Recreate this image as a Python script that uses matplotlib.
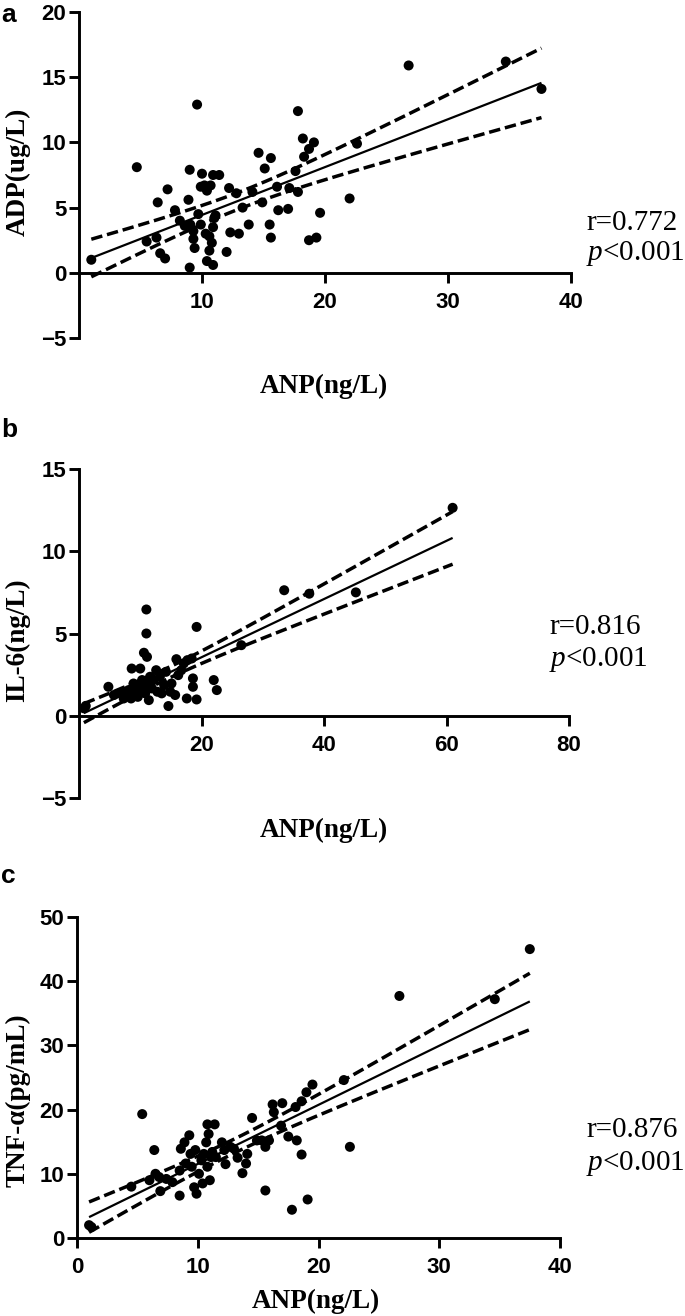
import numpy as np
import matplotlib
matplotlib.use("Agg")
import matplotlib.pyplot as plt

plt.rcParams["mathtext.fontset"] = "custom"
plt.rcParams["mathtext.it"] = "Liberation Serif:italic"
plt.rcParams["mathtext.rm"] = "Liberation Serif"

# ---------------- data ----------------
anp_a = [1.0, 4.7, 7.2, 6.4, 5.5, 6.3, 6.6, 7.0, 7.8, 8.2, 8.6, 8.9, 9.0, 9.05, 9.3, 9.3,
         9.4, 9.0, 9.6, 9.7, 9.9, 10.0, 9.9, 10.2, 10.4, 10.7, 10.9, 11.4, 10.3, 10.6,
         10.8, 10.6, 10.4, 10.9, 11.0, 10.9, 11.1, 12.0, 12.2, 12.3, 13.0, 12.8, 13.3,
         13.8, 14.1, 14.6, 14.9, 15.1, 15.6, 15.5, 15.6, 16.2, 16.1, 17.0, 17.1, 17.8,
         17.6, 17.8, 18.2, 18.3, 18.7, 19.1, 18.7, 19.3, 19.6, 22.0, 22.6, 26.8, 34.7, 37.6]
adp_a = [1.0, 8.1, 6.4, 5.4, 2.4, 2.7, 1.5, 1.1, 4.8, 4.0, 3.6, 5.6, 7.9, 3.7, 3.2, 2.6,
         1.9, 0.4, 12.9, 4.5, 3.7, 7.6, 6.6, 6.7, 6.3, 6.7, 7.5, 7.5, 3.0, 2.8,
         2.3, 1.7, 0.9, 0.6, 4.2, 3.5, 4.4, 1.6, 6.5, 3.1, 3.0, 6.1, 5.0,
         3.7, 6.2, 9.2, 5.4, 8.0, 8.8, 3.7, 2.7, 4.8, 6.6, 4.9, 6.5, 6.2,
         7.8, 12.4, 10.3, 8.9, 9.5, 10.0, 2.5, 2.7, 4.6, 5.7, 9.9, 15.9, 16.2, 14.1]

anp_b = [0.8, 1.1, 4.8, 5.7, 6.7, 7.3, 7.6, 8.1, 8.7, 8.5, 8.6, 8.9, 9.2, 9.5, 9.6,
         10.0, 10.3, 10.0, 10.5, 10.8, 11.0, 11.0, 10.6, 11.1, 11.2, 11.4, 11.6, 11.9,
         12.2, 12.6, 12.8, 13.2, 13.5, 13.9, 14.2, 14.6, 14.9, 15.1, 15.7, 15.9, 16.2,
         16.7, 17.1, 17.6, 17.7, 18.4, 18.6, 18.6, 19.2, 19.2, 22.0, 22.5, 26.5, 33.5,
         37.6, 45.2, 61.0]
il6_b = [0.45, 0.6, 1.76, 1.26, 1.36, 1.05, 1.46, 1.56, 1.66, 1.05, 2.87, 1.96, 1.46, 1.76, 1.15,
         2.87, 2.17, 1.46, 1.66, 1.36, 6.46, 5.0, 3.83, 3.58, 1.96, 0.95, 2.37, 1.66,
         2.17, 2.77, 1.46, 2.37, 1.36, 1.86, 2.67, 0.59, 1.46, 1.96, 1.26, 3.44, 2.47,
         2.77, 3.18, 1.05, 3.38, 3.48, 2.27, 1.76, 5.4, 0.99, 2.17, 1.56, 4.29, 7.63,
         7.42, 7.5, 12.64]

anp_c = [1.0, 1.2, 5.4, 4.5, 6.0, 6.5, 6.4, 6.9, 6.8, 7.4, 7.9, 8.5, 8.5, 8.6, 8.9, 9.3,
         9.0, 9.4, 9.5, 9.7, 9.9, 9.8, 10.1, 10.3, 10.4, 10.5, 10.7, 10.8, 10.9, 11.0,
         11.1, 10.8, 11.4, 11.2, 11.5, 12.0, 12.3, 12.2, 12.7, 13.0, 13.3, 13.7, 14.0,
         14.1, 14.5, 14.9, 15.3, 15.6, 15.6, 15.9, 16.2, 16.3, 17.0, 16.9, 17.5, 17.8,
         18.2, 18.1, 18.6, 18.6, 19.1, 19.0, 19.5, 22.1, 22.6, 26.7, 34.6, 37.5]
tnf_c = [2.0, 1.7, 19.3, 8.0, 9.0, 10.0, 13.7, 7.3, 9.5, 9.2, 8.7, 6.6, 10.5, 13.9, 14.9, 16.0,
         11.6, 13.1, 11.1, 7.9, 6.9, 13.7, 10.0, 12.1, 8.5, 13.1, 14.9, 11.1, 16.2, 9.0,
         12.6, 17.7, 17.7, 13.4, 12.6, 14.9, 11.5, 13.7, 14.2, 13.9, 12.5, 10.1, 11.6,
         13.1, 18.7, 15.2, 15.2, 14.2, 7.4, 15.2, 20.8, 19.6, 21.0, 17.5, 15.8, 4.4,
         15.2, 20.4, 13.0, 21.3, 6.0, 22.7, 23.9, 24.6, 14.2, 37.7, 37.2, 45.0]

x_ticks_a = [10, 20, 30, 40]
y_ticks_a = [-5, 0, 5, 10, 15, 20]
x_ticks_b = [20, 40, 60, 80]
y_ticks_b = [-5, 0, 5, 10, 15]
x_ticks_c = [0, 10, 20, 30, 40]
y_ticks_c = [0, 10, 20, 30, 40, 50]

panel_letters = ["a", "b", "c"]
y_labels = ["ADP(ug/L)", "IL-6(ng/L)", "TNF-α(pg/mL)"]
x_label = "ANP(ng/L)"
r_texts = ["r=0.772", "r=0.816", "r=0.876"]
p_text = r"$\it{p}$" + "<0.001"

serif = "Liberation Serif"
sans = "Liberation Sans"

W, H = 685, 1316
fig = plt.figure(figsize=(W / 100, H / 100), dpi=100)


def px_ax(x0, x1, ytop, ybot):
    return [x0 / W, 1 - ybot / H, (x1 - x0) / W, (ybot - ytop) / H]


def fit_lines(ax, x, y, t=1.99):
    x = np.asarray(x, float)
    y = np.asarray(y, float)
    n = len(x)
    b, a = np.polyfit(x, y, 1)
    res = y - (a + b * x)
    s = np.sqrt(np.sum(res ** 2) / (n - 2))
    xbar = x.mean()
    sxx = np.sum((x - xbar) ** 2)
    xs = np.linspace(x.min(), x.max(), 200)
    yh = a + b * xs
    hw = t * s * np.sqrt(1 / n + (xs - xbar) ** 2 / sxx)
    ax.plot(xs, yh, color="black", lw=1.6, zorder=3, solid_capstyle="butt")
    for sign in (1, -1):
        ax.plot(xs, yh + sign * hw, color="black", lw=2.5, dashes=(3.3, 1.4), zorder=3)


def style(ax, xlim, ylim, xt, yt):
    ax.set_xlim(*xlim)
    ax.set_ylim(*ylim)
    for s in ("top", "right"):
        ax.spines[s].set_visible(False)
    ax.spines["bottom"].set_position(("data", 0))
    for s in ("left", "bottom"):
        ax.spines[s].set_linewidth(2.1)
    ax.set_xticks(xt)
    ax.set_yticks(yt)
    ax.tick_params(axis="both", direction="out", width=2.1, length=7, labelsize=16)
    ax.tick_params(axis="x", pad=7)
    ax.tick_params(axis="y", pad=2)
    for lab in ax.get_xticklabels() + ax.get_yticklabels():
        lab.set_fontfamily(sans)
        lab.set_fontweight("bold")
    ax.patch.set_alpha(0)


specs = [
    dict(pos=px_ax(79, 571, 12, 338), xlim=(0, 40), ylim=(-5, 20), xt=x_ticks_a, yt=y_ticks_a,
         x=anp_a, y=adp_a, letter_y=22, ylab_y=172, xlab=(324, 386), r_y=223, p_y=254, r_x=586),
    dict(pos=px_ax(79, 569, 469, 798), xlim=(0, 80), ylim=(-5, 15), xt=x_ticks_b, yt=y_ticks_b,
         x=anp_b, y=il6_b, letter_y=437, ylab_y=640, xlab=(324, 830), r_y=627, p_y=660, r_x=549),
    dict(pos=px_ax(77, 560, 917, 1238), xlim=(0, 40), ylim=(0, 50), xt=x_ticks_c, yt=y_ticks_c,
         x=anp_c, y=tnf_c, letter_y=883, ylab_y=1100, xlab=(316, 1301), r_y=1130, p_y=1163, r_x=586),
]

for i, sp in enumerate(specs):
    ax = fig.add_axes(sp["pos"])
    style(ax, sp["xlim"], sp["ylim"], sp["xt"], sp["yt"])
    ax.scatter(sp["x"], sp["y"], s=52, color="black", edgecolors="none", zorder=4, clip_on=False)
    fit_lines(ax, sp["x"], sp["y"])
    fig.text(1 / W, 1 - sp["letter_y"] / H, panel_letters[i], fontsize=19, fontweight="bold",
             family=sans, ha="left", va="baseline")
    fig.text(18 / W, 1 - sp["ylab_y"] / H, y_labels[i], fontsize=19.5, fontweight="bold",
             family=serif, rotation=90, ha="center", va="center")
    fig.text(sp["xlab"][0] / W, 1 - sp["xlab"][1] / H, x_label, fontsize=19.5, fontweight="bold",
             family=serif, ha="center", va="center")
    fig.text(sp["r_x"] / W, 1 - sp["r_y"] / H, r_texts[i], fontsize=21, family=serif,
             ha="left", va="center")
    fig.text(sp["r_x"] / W, 1 - sp["p_y"] / H, p_text, fontsize=21, family=serif,
             ha="left", va="center")

fig.savefig("out.png", dpi=100, facecolor="white")
